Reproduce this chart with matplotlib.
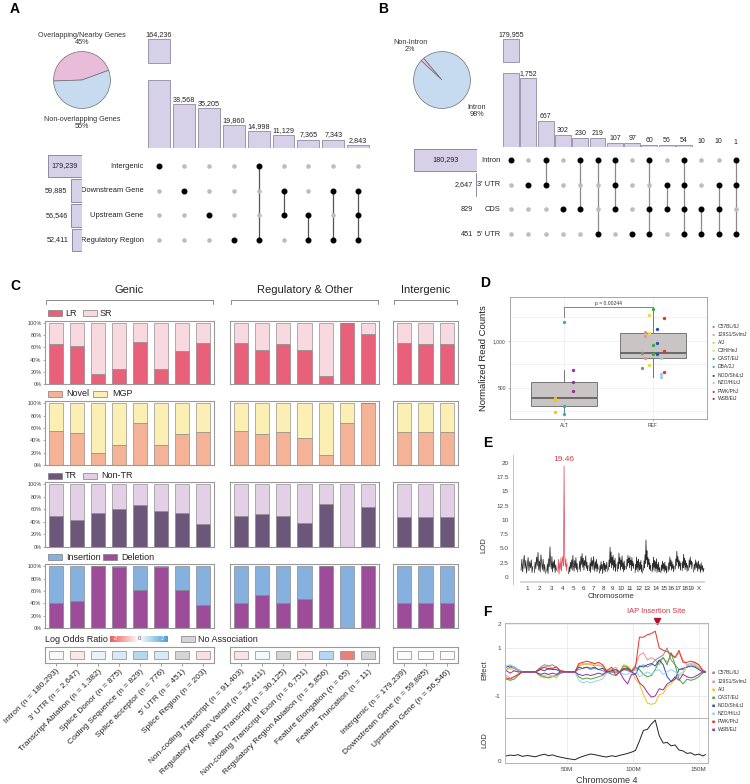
import numpy as np
import matplotlib.pyplot as plt
from matplotlib.colors import LinearSegmentedColormap, Normalize
from matplotlib.patches import Rectangle
from matplotlib.lines import Line2D

plt.rcParams['font.family'] = ['Liberation Sans', 'DejaVu Sans']
plt.rcParams['axes.unicode_minus'] = False

# ---------------- data ----------------
# A: upset of intergenic / nearby gene annotations
a_pie_vals = [45, 55]
a_pie_labels = ['Overlapping/Nearby Genes\n45%', 'Non-overlapping Genes\n55%']
a_bar_vals = [164236, 38568, 35205, 19860, 14998, 11129, 7365, 7343, 2843]
a_sets = ['Intergenic', 'Downstream Gene', 'Upstream Gene', 'Regulatory Region']
a_set_sizes = [179239, 59885, 56546, 52411]
a_combos = [[0], [1], [2], [3], [0, 3], [1, 2], [2, 3], [1, 3], [1, 2, 3]]

# B: upset of genic annotations
b_pie_vals = [2, 98]
b_bar_vals = [179955, 1752, 667, 302, 230, 219, 107, 97, 60, 56, 54, 10, 10, 1]
b_sets = ['Intron', "3' UTR", 'CDS', "5' UTR"]
b_set_sizes = [180293, 2647, 829, 451]
b_combos = [[0], [1], [0, 1], [2], [0, 2], [0, 3], [0, 1, 2], [3], [0, 2, 3],
            [1, 2], [0, 1, 2, 3], [2, 3], [1, 2, 3], [0, 1, 3]]

# C: stacked proportions per consequence category
c_groups = ['Genic', 'Regulatory & Other', 'Intergenic']
c_group_sizes = [8, 7, 3]
c_labels = ['Intron (n = 180,293)', "3' UTR (n = 2,647)", 'Transcript Ablation (n = 1,382)',
            'Splice Donor (n = 875)', 'Coding Sequence (n = 829)', 'Splice acceptor (n = 776)',
            "5' UTR (n = 451)", 'Splice Region (n = 203)',
            'Non-coding Transcript (n = 91,403)', 'Regulatory Region Variant (n = 52,411)',
            'NMD Transcript (n = 30,125)', 'Non-coding Transcript Exon (n = 6,751)',
            'Regulatory Region Ablation (n = 5,856)', 'Feature Elongation (n = 65)',
            'Feature Truncation (n = 11)',
            'Intergenic (n = 179,239)', 'Downstream Gene (n = 59,885)', 'Upstream Gene (n = 56,546)']
lr_frac = [0.66, 0.62, 0.16, 0.24, 0.69, 0.25, 0.54, 0.67,
           0.67, 0.56, 0.65, 0.56, 0.13, 1.00, 0.82,
           0.68, 0.65, 0.65]
novel_frac = [0.55, 0.52, 0.19, 0.32, 0.68, 0.33, 0.50, 0.54,
              0.55, 0.50, 0.54, 0.44, 0.16, 0.68, 1.00,
              0.54, 0.54, 0.54]
tr_frac = [0.49, 0.43, 0.54, 0.61, 0.67, 0.58, 0.54, 0.37,
           0.49, 0.52, 0.49, 0.38, 0.69, 0.00, 0.63,
           0.47, 0.47, 0.47]
del_frac = [0.40, 0.43, 1.00, 0.99, 0.61, 0.99, 0.62, 0.37,
            0.40, 0.53, 0.40, 0.47, 1.00, 0.00, 1.00,
            0.40, 0.40, 0.40]
log_odds = [0.1, -0.3, 0.25, 0.45, 0.8, 0.45, np.nan, -0.4,
            -0.35, 0.15, np.nan, -0.3, 0.8, -1.6, np.nan,
            -0.05, -0.05, -0.05]

# D: normalized read counts by genotype
d_strains = ['C57BL/6J', '129S1/SvImJ', 'A/J', 'C3H/HeJ', 'CAST/EiJ', 'DBA/2J',
             'NOD/ShiLtJ', 'NZO/HlLtJ', 'PWK/PhJ', 'WSB/EiJ']
strain_colors = ['#8C8C8C', '#F28E8E', '#F2C418', '#E3DF2A', '#3DAA3D', '#1FB5C4',
                 '#2451B5', '#9CCBF2', '#E8302A', '#9B2D9B']
alt_strain = ['A/J', 'A/J', 'A/J', 'DBA/2J', 'DBA/2J', 'DBA/2J', 'WSB/EiJ', 'WSB/EiJ', 'WSB/EiJ']
alt_counts = [397, 372, 245, 1205, 309, 224, 688, 564, 468]
ref_strain = ['C57BL/6J'] * 3 + ['129S1/SvImJ'] * 3 + ['C3H/HeJ'] * 3 + ['CAST/EiJ'] * 3 + \
             ['NOD/ShiLtJ'] * 3 + ['NZO/HlLtJ'] * 3 + ['PWK/PhJ'] * 3
ref_counts = [876, 870, 716, 1099, 1056, 822, 1277, 1085, 745, 1340, 957, 862,
              1128, 979, 862, 819, 649, 617, 1245, 894, 670]

# E: genome-wide LOD scan
chr_names = ['1', '2', '3', '4', '5', '6', '7', '8', '9', '10', '11', '12', '13', '14',
             '15', '16', '17', '18', '19', 'X']
chr_len = [195.5, 182.1, 160.0, 156.5, 151.8, 149.7, 145.4, 129.4, 124.6, 130.7, 122.1,
           120.1, 120.4, 124.9, 104.0, 98.2, 95.0, 90.7, 61.4, 171.0]
e_lod_by_chr = [
    [1.2, 3.1, 0.9, 2.4, 3.8, 1.5, 2.9, 0.7, 2.2, 3.4, 1.1, 2.7, 1.6, 3.0, 0.8, 1.9],
    [0.8, 2.6, 1.4, 3.5, 2.0, 4.3, 1.2, 2.8, 0.9, 3.9, 2.4, 1.3, 3.1, 1.0, 2.2, 0.7],
    [1.0, 2.3, 0.6, 3.2, 1.8, 5.3, 2.5, 1.4, 3.6, 0.9, 2.7, 1.6, 3.0, 0.8, 2.1, 1.2],
    [0.9, 3.1, 0.5, 2.5, 1.3, 3.4, 1.0, 2.8, 3.6, 2.0, 19.46, 3.9, 1.8, 3.2, 1.1, 2.3],
    [0.6, 1.8, 0.9, 2.6, 1.5, 3.0, 1.2, 3.8, 2.1, 1.0, 2.9, 1.6, 3.4, 1.3, 2.4, 0.9],
    [1.4, 2.8, 1.0, 3.6, 2.2, 4.1, 1.7, 3.3, 1.2, 2.9, 2.0, 3.7, 1.5, 2.6, 1.1, 2.0],
    [1.1, 2.5, 0.8, 3.4, 1.9, 2.9, 1.3, 3.6, 2.2, 1.0, 2.7, 1.5, 3.1, 0.9, 2.3, 1.4],
    [0.7, 2.0, 1.1, 2.7, 1.4, 2.2, 0.6, 1.9, 2.8, 1.2, 2.4, 0.9, 2.1, 1.5, 2.6, 1.0],
    [1.3, 3.0, 1.8, 5.2, 2.4, 4.4, 1.6, 3.5, 2.1, 3.8, 1.2, 2.9, 1.7, 3.3, 1.0, 2.2],
    [1.0, 2.6, 1.5, 4.2, 2.3, 3.4, 1.2, 3.0, 1.8, 3.7, 1.4, 2.5, 0.9, 2.8, 1.3, 1.9],
    [1.4, 3.1, 1.9, 3.8, 2.5, 3.3, 1.6, 3.6, 2.2, 2.9, 1.1, 3.4, 2.0, 2.7, 1.5, 2.3],
    [0.8, 2.2, 1.3, 3.5, 1.7, 2.8, 0.9, 3.1, 2.0, 1.2, 2.6, 1.4, 2.9, 1.0, 2.1, 0.7],
    [1.2, 2.8, 1.6, 3.9, 2.4, 6.5, 3.0, 4.6, 1.8, 3.5, 2.2, 3.1, 1.4, 2.5, 1.1, 2.0],
    [0.9, 2.4, 1.2, 3.5, 1.7, 2.9, 1.0, 2.7, 1.5, 3.2, 0.8, 2.2, 1.3, 2.6, 0.9, 1.6],
    [0.8, 2.1, 1.1, 2.8, 1.4, 2.4, 0.9, 2.6, 1.2, 2.0, 0.7, 1.8],
    [1.0, 2.5, 1.3, 3.5, 1.9, 3.0, 1.2, 2.7, 1.5, 2.2, 0.9, 1.9],
    [1.4, 3.2, 2.0, 4.5, 2.6, 3.6, 1.5, 3.0, 1.9, 2.7, 1.2, 2.4],
    [1.1, 2.7, 1.6, 4.0, 2.1, 3.3, 1.3, 2.9, 1.7, 2.4, 1.0, 2.0],
    [1.2, 3.0, 1.7, 3.5, 2.2, 2.8, 1.4, 2.5],
    [0.9, 2.3, 1.3, 3.0, 1.6, 2.6, 1.0, 2.8, 1.4, 2.2, 0.8, 2.5, 1.2, 2.0, 0.9, 1.5],
]
e_peak_chr = 3

# F: chromosome 4 founder effects and LOD
f_pos = [4, 7, 10, 13, 16, 20, 26, 30, 33, 36, 39, 42, 45, 50, 56, 59, 62, 65, 68, 71, 74, 77,
         80, 84, 87, 90, 93, 96, 99, 102, 105, 108, 111, 114, 117, 120, 123, 126, 129, 132,
         135, 138, 141, 144, 147, 150, 153, 155]
f_strains = ['C57BL/6J', '129S1/SvImJ', 'A/J', 'CAST/EiJ', 'NOD/ShiLtJ', 'NZO/HlLtJ',
             'PWK/PhJ', 'WSB/EiJ']
f_eff_c57 = [0.1, 0.2, 0.15, 0.05, 0, 0, 0, 0.2, 0.3, 0.25, 0.3, 0.2, 0.05, 0, 0,
             0.1, 0.15, 0.2, 0.1, 0.15, 0.1, 0.05, 0.0, 0.05, 0.1, 0.0, 0.1, 0.05, 0.0,
             0.1, 0.2, 0.3, 0.2, 0.3, 0.5, 0.6, 0.7, 1.0, 0.5, 0.3, 0.1, 0.1,
             0.2, 0.3, 0.25, 0.15, 0.1, 0]
f_eff_129 = [-0.15, -0.25, -0.2, -0.1, 0, 0, 0, 0.1, 0.2, 0.25, 0.15, 0.2, 0.05, 0, 0,
             0.25, 0.3, 0.35, 0.3, 0.25, 0.3, 0.2, 0.05, 0.1, 0.2, 0.0, 0.15, 0.2, 0.05,
             0.3, 0.7, 0.8, 0.5, 0.6, 0.5, 0.3, 0.6, 0.4, 0.7, 0.6, 0.8, 0.5,
             0.3, 0.35, 0.4, 0.3, 0.1, 0]
f_eff_aj = [0.1, 0.15, 0.05, 0.0, 0, 0, 0, -0.2, -0.25, -0.2, -0.15, -0.25, -0.05, 0, 0,
            0.3, 0.35, 0.3, 0.35, 0.3, 0.25, 0.3, 0.1, 0.05, 0.1, 0.0, 0.3, 0.25, 0.05,
            -0.3, -0.5, -0.95, -1.3, -1.35, -1.3, -0.95, -0.9, -0.6, -0.5, -0.3, -0.15, -0.1,
            0.25, 0.2, 0.3, 0.15, 0.05, 0]
f_eff_cast = [-0.3, -0.35, -0.3, -0.15, 0, 0, 0, -0.15, -0.2, -0.25, -0.2, -0.15, -0.05, 0, 0,
              -0.2, -0.3, -0.25, -0.3, -0.25, -0.2, -0.15, 0.0, -0.1, -0.15, 0.0, 0.25, 0.2, 0.05,
              0.2, 0.1, -0.1, -0.2, -0.15, 0.1, 0.45, 0.6, 0.3, 0.8, 0.3, -0.3, -0.5,
              -0.3, -0.35, -0.3, -0.2, -0.05, 0]
f_eff_nod = [0.2, 0.25, 0.2, 0.1, 0, 0, 0, 0.1, 0.05, 0.15, 0.1, 0.1, 0.0, 0, 0,
             0.2, 0.15, 0.2, 0.15, 0.2, 0.1, 0.15, 0.0, 0.05, 0.1, 0.0, 0.1, 0.15, 0.0,
             -0.1, 0.25, 0.2, 0.3, 0.35, 0.25, 0.5, 0.3, -0.2, -0.4, -0.3, 0.1, 0.15,
             0.2, 0.25, 0.2, 0.1, 0.0, 0]
f_eff_nzo = [0.25, 0.3, 0.2, 0.1, 0, 0, 0, -0.1, -0.15, -0.1, -0.2, -0.1, 0.0, 0, 0,
             -0.35, -0.45, -0.4, -0.45, -0.4, -0.35, -0.3, -0.05, 0.0, -0.05, 0.0, -0.1, -0.1, 0.0,
             0.1, -0.2, -0.1, 0.0, -0.1, 0.05, 0.1, -0.1, 0.0, 0.1, 0.0, -0.1, 0.0,
             0.3, 0.25, 0.35, 0.2, 0.05, 0]
f_eff_pwk = [-0.25, -0.3, -0.2, -0.1, 0, 0, 0, 0.15, 0.2, 0.1, 0.15, 0.2, 0.05, 0, 0,
             0.35, 0.4, 0.45, 0.4, 0.35, 0.4, 0.3, 0.05, 0.2, -0.15, 0.0, 0.15, 0.1, 0.0,
             0.2, 1.45, 1.45, 1.55, 1.6, 1.7, 1.0, 0.9, 0.85, 0.75, 0.6, 0.9, 0.4,
             0.4, 0.45, 0.4, 0.3, 0.05, 0]
f_eff_wsb = [0.05, -0.05, 0.05, 0.0, 0, 0, 0, -0.1, -0.05, -0.1, -0.05, -0.1, 0.0, 0, 0,
             -0.1, -0.15, -0.1, -0.15, -0.1, -0.05, -0.1, 0.0, 0.0, 0.0, 0.0, -0.3, -0.5, -0.1,
             -0.1, -0.45, -0.6, -0.85, -1.05, -1.0, -0.7, -0.75, -0.5, -0.4, -0.2, -0.35, -0.1,
             -0.2, -0.25, -0.2, -0.1, 0.0, 0]
f_lod = [2.4, 2.8, 2.6, 3.0, 2.2, 2.6, 2.0, 2.8, 3.2, 2.5, 2.9, 2.3, 1.8, 1.2, 0.6,
         1.5, 2.2, 2.8, 3.3, 3.0, 2.6, 2.2, 1.9, 2.5, 2.1, 2.7, 3.1, 3.6, 4.2,
         5.0, 9.5, 14.5, 15.0, 17.5, 19.4, 12.0, 8.5, 8.8, 7.2, 7.6, 5.2, 4.8,
         3.6, 3.9, 2.8, 3.3, 2.4, 3.0]
iap_site = 118

# ---------------- helpers ----------------
W, H = 750, 784
fig = plt.figure(figsize=(7.5, 7.84), dpi=100)

LAV = '#D6D1E9'
LAV_EDGE = '#8E8BA0'
FRAME = '#9A9A9A'


def px_axes(x0, y0, x1, y1):
    return fig.add_axes([x0 / W, 1 - y1 / H, (x1 - x0) / W, (y1 - y0) / H])


def ftext(x, y, s, **kw):
    fig.text(x / W, 1 - y / H, s, **kw)


def fline(xs, ys, **kw):
    fig.add_artist(Line2D([x / W for x in xs], [1 - y / H for y in ys],
                          transform=fig.transFigure, **kw))


def frect(x, y, w, h, **kw):
    fig.add_artist(Rectangle((x / W, 1 - (y + h) / H), w / W, h / H,
                             transform=fig.transFigure, **kw))


def draw_pie(cx, cy, r, vals, colors, start):
    ax = px_axes(cx - r, cy - r, cx + r, cy + r)
    ax.pie(vals, colors=colors, startangle=start,
           wedgeprops=dict(edgecolor='#6f6f6f', linewidth=0.5))
    ax.set_xlim(-1.02, 1.02)
    ax.set_ylim(-1.02, 1.02)


def draw_upset(vals, combos, sets, sizes, cx0, step, bw, lo_y, lo_max, hi_y, hi_lim,
               row0, size_x, size_max, line_col, fs):
    n = len(vals)
    xl, xr = cx0 - step / 2, cx0 + step * (n - 0.5)
    # lower bar segment
    ax = px_axes(xl, lo_y[0], xr, lo_y[1])
    shown = [min(v, lo_max * 0.995) for v in vals]
    ax.bar(range(n), shown, width=bw, color=LAV, edgecolor=LAV_EDGE, linewidth=0.6)
    for i in range(1, n):
        ax.annotate(f'{vals[i]:,}', (i, vals[i]), xytext=(0, 0.8), textcoords='offset points',
                    ha='center', va='bottom', fontsize=fs, color='#222222')
    ax.set_xlim(-0.5, n - 0.5)
    ax.set_ylim(0, lo_max)
    ax.axis('off')
    # upper bar segment (broken axis)
    axh = px_axes(xl, hi_y[0], xr, hi_y[1])
    base = hi_lim[0] + 0.03 * (hi_lim[1] - hi_lim[0])
    axh.bar([0], [vals[0] - base], bottom=base, width=bw, color=LAV, edgecolor=LAV_EDGE,
            linewidth=0.6)
    axh.annotate(f'{vals[0]:,}', (0, vals[0]), xytext=(0, 0.8), textcoords='offset points',
                 ha='center', va='bottom', fontsize=fs, color='#222222')
    axh.set_xlim(-0.5, n - 0.5)
    axh.set_ylim(*hi_lim)
    axh.axis('off')
    # matrix
    rstep = 24.67
    my0, my1 = row0 - rstep / 2, row0 + rstep * 3.5
    am = px_axes(xl, my0, xr, my1)
    for i, combo in enumerate(combos):
        for r in range(len(sets)):
            if r in combo:
                am.plot(i, r, 'o', color='black', ms=3.3, zorder=3)
            else:
                am.plot(i, r, 'o', color='#BDBDBD', ms=2.3, zorder=2)
        if len(combo) > 1:
            am.plot([i, i], [min(combo), max(combo)], color=line_col, lw=0.9, zorder=1)
    for r, name in enumerate(sets):
        am.text(-0.62, r, name, ha='right', va='center', fontsize=5.4, color='#222222')
    am.set_xlim(-0.5, n - 0.5)
    am.set_ylim(len(sets) - 0.5, -0.5)
    am.axis('off')
    # set sizes
    asz = px_axes(size_x[0], my0, size_x[1], my1)
    asz.barh(range(len(sizes)), sizes, height=0.93, color=LAV, edgecolor=LAV_EDGE, linewidth=0.7)
    asz.text(sizes[0] / 2, 0, f'{sizes[0]:,}', ha='center', va='center', fontsize=5.2,
             color='#222222')
    for r in range(1, len(sizes)):
        asz.annotate(f'{sizes[r]:,}', (sizes[r], r), xytext=(-2.5, 0),
                     textcoords='offset points', ha='right', va='center', fontsize=5.2,
                     color='#222222')
    asz.set_xlim(size_max, 0)
    asz.set_ylim(len(sizes) - 0.5, -0.5)
    asz.axis('off')


# ---------------- panel A ----------------
ftext(10, 9, 'A', fontsize=10, fontweight='bold', va='center')
draw_pie(82, 80, 29, a_pie_vals, ['#E9BDD9', '#C6DAF0'], 20)
ftext(82, 39, a_pie_labels[0], fontsize=5.2, ha='center', va='center', color='#333333',
      linespacing=1.1)
ftext(82, 123, a_pie_labels[1], fontsize=5.2, ha='center', va='center', color='#333333',
      linespacing=1.1)
draw_upset(a_bar_vals, a_combos, a_sets, a_set_sizes, cx0=159, step=24.9, bw=0.88,
           lo_y=(80, 148), lo_max=59600, hi_y=(36, 64), hi_lim=(150000, 166000),
           row0=166, size_x=(30, 82), size_max=274100, line_col='#555555', fs=5.2)

# ---------------- panel B ----------------
ftext(378, 9, 'B', fontsize=10, fontweight='bold', va='center')
draw_pie(442, 80, 29, b_pie_vals, ['#E9BDD9', '#C6DAF0'], 130)
ftext(410, 46, 'Non-Intron\n2%', fontsize=5.2, ha='center', va='center', color='#333333',
      linespacing=1.1)
ftext(477, 111, 'Intron\n98%', fontsize=5.2, ha='center', va='center', color='#333333',
      linespacing=1.1)
draw_upset(b_bar_vals, b_combos, b_sets, b_set_sizes, cx0=511, step=17.3, bw=0.92,
           lo_y=(73, 147), lo_max=1879, hi_y=(37, 63), hi_lim=(170000, 181000),
           row0=160, size_x=(400, 477), size_max=220360, line_col='#8A8A8A', fs=5.0)

# ---------------- panel C ----------------
ftext(10, 286, 'C', fontsize=10, fontweight='bold', va='center')
gx = [(45, 214), (230, 379), (393, 458)]
for (x0, x1), name in zip(gx, c_groups):
    ftext((x0 + x1) / 2, 290, name, fontsize=8, ha='center', va='center', color='#222222')
    fline([x0 + 1, x0 + 1, x1 - 1, x1 - 1], [304, 300, 300, 304], color='#777777', lw=0.6)

c_rows = [
    (lr_frac, '#E8607A', '#F9D9E0', 321, 384, 313,
     [('LR', 48, 65), ('SR', 83, 100)]),
    (novel_frac, '#F4B396', '#FCEFB4', 401, 465, 394,
     [('Novel', 48, 66), ('MGP', 93, 112)]),
    (tr_frac, '#6C5679', '#E3D0E6', 482, 547, 476,
     [('TR', 48, 65), ('Non-TR', 83, 101)]),
    (del_frac, '#9D4C9A', '#86B0DD', 564, 628, 557,
     [('Insertion', 48, 66), ('Deletion', 103, 121)]),
]
starts = np.cumsum([0] + c_group_sizes)
for frac, dark, light, yt, yb, ly, leg in c_rows:
    # legend (order of colors follows the legend text)
    leg_cols = [dark, light] if leg[0][0] != 'Insertion' else [light, dark]
    for (lab, px, tx), col in zip(leg, leg_cols):
        frect(px, ly - 2.8, 14, 5.6, facecolor=col, edgecolor='#7d7d7d', lw=0.5)
        ftext(tx, ly, lab, fontsize=6.5, va='center', color='#222222')
    for g, (x0, x1) in enumerate(gx):
        s, e = starts[g], starts[g + 1]
        f = np.array(frac[s:e])
        x = np.arange(e - s)
        ax = px_axes(x0, yt, x1, yb)
        ax.bar(x, f, 0.66, color=dark, edgecolor='#7a7a7a', linewidth=0.4)
        ax.bar(x, 1 - f, 0.66, bottom=f, color=light, edgecolor='#7a7a7a', linewidth=0.4)
        ax.set_xlim(-0.5, e - s - 0.5)
        ax.set_ylim(0, 1.035)
        ax.set_xticks([])
        for sp in ax.spines.values():
            sp.set_color(FRAME)
            sp.set_linewidth(0.8)
        if g == 0:
            ax.set_yticks(np.linspace(0, 1, 6))
            ax.set_yticklabels(['0%', '20%', '40%', '60%', '80%', '100%'])
            ax.tick_params(axis='y', labelsize=4, length=1.5, width=0.4, pad=1,
                           color='#777777', labelcolor='#444444')
        else:
            ax.set_yticks([])

# log odds legend
cmap = LinearSegmentedColormap.from_list('lor', ['#E8605A', '#FFFFFF', '#4A9FD5'])
norm = Normalize(-2, 2)
ftext(45, 639, 'Log Odds Ratio', fontsize=6.5, va='center', color='#222222')
acb = px_axes(110, 635.5, 168, 642.5)
acb.imshow(np.linspace(-2, 2, 100)[None, :], aspect='auto', cmap=cmap, norm=norm,
           extent=(-2.3, 2.3, 0, 1))
for v in [-2, 0, 2]:
    acb.text(v * 0.93, 0.5, str(v), ha='center', va='center', fontsize=4.3,
             color='#555555' if v == 0 else '#f4f4f4')
acb.axis('off')
frect(181, 636, 14, 6, facecolor='#D5D5D5', edgecolor='#7d7d7d', lw=0.5)
ftext(198, 639, 'No Association', fontsize=6.5, va='center', color='#222222')

for g, (x0, x1) in enumerate(gx):
    s, e = starts[g], starts[g + 1]
    ax = px_axes(x0, 647, x1, 663)
    for i, v in enumerate(log_odds[s:e]):
        col = '#D5D5D5' if np.isnan(v) else cmap(norm(v))
        ax.add_patch(Rectangle((i - 0.33, 0.25), 0.66, 0.5, facecolor=col,
                               edgecolor='#8a8a8a', lw=0.5))
    ax.set_xlim(-0.5, e - s - 0.5)
    ax.set_ylim(0, 1)
    ax.set_yticks([])
    ax.set_xticks(np.arange(e - s))
    ax.set_xticklabels(c_labels[s:e], rotation=45, ha='right', rotation_mode='anchor',
                       fontsize=6, color='#222222')
    ax.tick_params(axis='x', length=2, width=0.5, color='#777777', pad=1.5)
    for sp in ax.spines.values():
        sp.set_color(FRAME)
        sp.set_linewidth(0.8)

# ---------------- panel D ----------------
ftext(480, 283, 'D', fontsize=10, fontweight='bold', va='center')
ax = px_axes(510, 297, 707, 419)
ax.boxplot([alt_counts, ref_counts], positions=[1, 2], widths=0.75, patch_artist=True,
           showfliers=False, showcaps=False,
           boxprops=dict(facecolor='#CAC5C5', edgecolor='#777777', linewidth=0.7),
           medianprops=dict(color='#6d6868', linewidth=1.4),
           whiskerprops=dict(color='#777777', linewidth=0.7))
for xpos, strains, counts in [(1, alt_strain, alt_counts), (2, ref_strain, ref_counts)]:
    present = [s for s in d_strains if s in strains]
    for s, c in zip(strains, counts):
        k = present.index(s)
        off = 0.3 * ((k + 0.5) / len(present) - 0.5)
        ax.plot(xpos + off, c, 'o', ms=2.4, color=strain_colors[d_strains.index(s)],
                mec='none', zorder=4)
ax.plot([1, 1, 2, 2], [1258, 1362, 1362, 1340], color='#555555', lw=0.5)
ax.text(1.5, 1372, 'p = 0.00244', ha='center', va='bottom', fontsize=3.6, color='#333333')
ax.set_xlim(0.393, 2.607)
ax.set_ylim(170, 1468)
ax.set_yticks([500, 1000])
ax.set_yticks([250, 750, 1250], minor=True)
ax.set_yticklabels(['500', '1,000'])
ax.set_xticks([1, 2])
ax.set_xticklabels(['ALT', 'REF'])
ax.grid(which='both', color='#EBEBEB', lw=0.5)
ax.set_axisbelow(True)
ax.tick_params(labelsize=3.6, length=1.5, width=0.4, color='#888888', labelcolor='#444444',
               pad=1.5)
ax.tick_params(which='minor', length=0)
for sp in ax.spines.values():
    sp.set_color('#999999')
    sp.set_linewidth(0.6)
ax.set_ylabel('Normalized Read Counts', fontsize=6.8, color='#222222')
ax.yaxis.set_label_coords(-0.11, 0.5)
for i, (s, c) in enumerate(zip(d_strains, strain_colors)):
    ftext(713, 327 + 8 * i, '\u25CF', fontsize=3.8, color=c, ha='center', va='center')
    ftext(717.5, 327 + 8 * i, s, fontsize=3.6, va='center', color='#333333')

# ---------------- panel E ----------------
ftext(483, 443, 'E', fontsize=10, fontweight='bold', va='center')
ax = px_axes(513, 455, 710, 584)
gap = 12
chr_start = np.concatenate([[0], np.cumsum(np.array(chr_len[:-1]) + gap)])
centers = []
for c, vals in enumerate(e_lod_by_chr):
    xs = chr_start[c] + np.linspace(0.03, 0.97, len(vals)) * chr_len[c]
    col = '#E25567' if c == e_peak_chr else '#2b2b2b'
    ax.plot(xs, vals, color=col, lw=0.55)
    ax.plot([chr_start[c] + 3, chr_start[c] + chr_len[c] - 3], [-0.88, -0.88],
            color='#CFCFCF', lw=1.2, clip_on=False)
    centers.append(chr_start[c] + chr_len[c] / 2)
    if c == e_peak_chr:
        k = int(np.argmax(vals))
        ax.annotate(f'{vals[k]:.2f}', (xs[k], vals[k]), xytext=(0, 2),
                    textcoords='offset points', ha='center', va='bottom', fontsize=6,
                    color='#D6404F')
ax.set_xlim(chr_start[0] - 120, chr_start[-1] + chr_len[-1] + 90)
ax.set_ylim(-1.23, 21.4)
ax.set_xticks(centers)
ax.set_xticklabels(chr_names)
ax.set_yticks([0, 2.5, 5, 7.5, 10, 12.5, 15, 17.5, 20])
ax.set_yticklabels(['0', '2.5', '5.0', '7.5', '10', '12.5', '15', '17.5', '20'])
ax.tick_params(axis='x', length=0, labelsize=4.5, pad=1.5, labelcolor='#333333')
ax.tick_params(axis='y', length=0, labelsize=4.6, pad=3, labelcolor='#444444')
for side in ['top', 'right', 'bottom']:
    ax.spines[side].set_visible(False)
ax.spines['left'].set_color('#BBBBBB')
ax.spines['left'].set_linewidth(0.6)
ax.set_xlabel('Chromosome', fontsize=5.6, labelpad=1.5, color='#333333')
ax.set_ylabel('LOD', fontsize=5.6, color='#333333')
ax.yaxis.set_label_coords(-0.128, 0.3)

# ---------------- panel F ----------------
ftext(483, 612, 'F', fontsize=10, fontweight='bold', va='center')
f_effects = [f_eff_c57, f_eff_129, f_eff_aj, f_eff_cast, f_eff_nod, f_eff_nzo, f_eff_pwk,
             f_eff_wsb]
ax_e = px_axes(505, 623, 708, 718)
ax_l = px_axes(505, 718, 708, 763)
for s, vals in zip(f_strains, f_effects):
    ax_e.plot(f_pos, vals, color=strain_colors[d_strains.index(s)], lw=0.7)
ax_e.set_xlim(3, 157)
ax_e.set_ylim(-1.92, 2.04)
ax_e.set_yticks([-1, 1, 2])
ax_e.set_xticks([50, 100, 150])
ax_e.set_xticklabels([])
ax_e.grid(color='#E6E6E6', lw=0.5)
ax_e.set_axisbelow(True)
ax_e.tick_params(length=0, labelsize=4.5, pad=3, labelcolor='#444444')
ax_e.set_ylabel('Effect', fontsize=5.6, color='#333333')
ax_e.yaxis.set_label_coords(-0.084, 0.5)
ax_e.plot([iap_site], [2.12], marker='v', ms=4.5, color='#B0102A', clip_on=False)
ax_e.text(iap_site, 2.5, 'IAP Insertion Site', ha='center', va='center', fontsize=5.4,
          color='#D0344A')

ax_l.plot(f_pos, f_lod, color='#222222', lw=0.7)
ax_l.set_xlim(3, 157)
ax_l.set_ylim(-0.95, 20.4)
ax_l.set_yticks([0])
ax_l.set_xticks([50, 100, 150])
ax_l.set_xticklabels(['50M', '100M', '150M'])
ax_l.grid(axis='x', color='#E6E6E6', lw=0.5)
ax_l.set_axisbelow(True)
ax_l.tick_params(length=0, labelsize=4.5, pad=3, labelcolor='#444444')
ax_l.set_ylabel('LOD', fontsize=5.6, color='#333333')
ax_l.yaxis.set_label_coords(-0.084, 0.5)
ax_l.set_xlabel('Chromosome 4', fontsize=6.5, color='#333333', labelpad=3)
for a in (ax_e, ax_l):
    for sp in a.spines.values():
        sp.set_color('#AAAAAA')
        sp.set_linewidth(0.6)
for i, s in enumerate(f_strains):
    ftext(713, 673 + 8.1 * i, '\u25A0', fontsize=3.8, color=strain_colors[d_strains.index(s)],
          ha='center', va='center')
    ftext(717.5, 673 + 8.1 * i, s, fontsize=3.6, va='center', color='#333333')

fig.savefig('out.png', dpi=100)
